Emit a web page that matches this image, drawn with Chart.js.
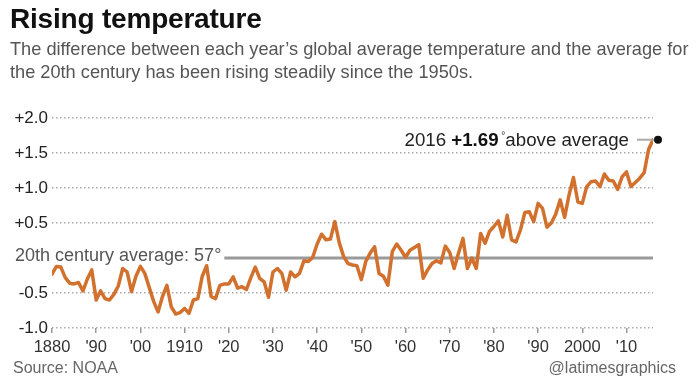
<!DOCTYPE html>
<html>
<head>
<meta charset="utf-8">
<script src="https://cdn.jsdelivr.net/npm/chart.js@4.4.1/dist/chart.umd.min.js"></script>
<style>
  html,body{margin:0;padding:0;background:#fff;}
  #wrap{position:relative;width:700px;height:388px;overflow:hidden;font-family:"Liberation Sans",Arial,sans-serif;}
  #c{position:absolute;left:0;top:0;}
  #title{position:absolute;left:10px;top:3px;font-weight:bold;font-size:28px;color:#111;letter-spacing:-0.2px;}
  #sub{position:absolute;left:10px;top:38px;width:695px;font-size:18.2px;line-height:23px;color:#555;white-space:nowrap;}
  #src{position:absolute;left:13px;top:359px;font-size:16px;color:#666;}
  #credit{position:absolute;right:24px;top:359px;font-size:16px;color:#666;}
</style>
</head>
<body>
<div id="wrap">
  <canvas id="c" width="700" height="388"></canvas>
  <div id="title">Rising temperature</div>
  <div id="sub">The difference between each year’s global average temperature and the average for<br>the 20th century has been rising steadily since the 1950s.</div>
  <div id="src">Source: NOAA</div>
  <div id="credit">@latimesgraphics</div>
</div>
<script>
// ---- Data (°F difference from 20th-century average) ----
const firstYear = 1880;
const anom1880s = [-0.23,-0.12,-0.13,-0.28,-0.36,-0.37,-0.35,-0.47,-0.30,-0.17];
const anom1890s = [-0.60,-0.47,-0.58,-0.60,-0.52,-0.40,-0.15,-0.20,-0.48,-0.26];
const anom1900s = [-0.12,-0.22,-0.42,-0.62,-0.77,-0.55,-0.39,-0.70,-0.80,-0.78];
const anom1910s = [-0.72,-0.79,-0.60,-0.58,-0.26,-0.11,-0.55,-0.58,-0.39,-0.37];
const anom1920s = [-0.37,-0.27,-0.43,-0.41,-0.45,-0.28,-0.13,-0.29,-0.34,-0.56];
const anom1930s = [-0.20,-0.15,-0.22,-0.46,-0.20,-0.27,-0.22,-0.04,-0.05,0.01];
const anom1940s = [0.20,0.34,0.26,0.27,0.52,0.22,0.02,-0.08,-0.10,-0.11];
const anom1950s = [-0.31,-0.05,0.07,0.16,-0.22,-0.26,-0.39,0.09,0.20,0.11];
const anom1960s = [0.01,0.11,0.15,0.19,-0.29,-0.17,-0.08,-0.04,-0.07,0.17];
const anom1970s = [0.08,-0.15,0.07,0.28,-0.15,0.00,-0.15,0.35,0.21,0.38];
const anom1980s = [0.45,0.53,0.30,0.61,0.26,0.23,0.40,0.65,0.66,0.52];
const anom1990s = [0.78,0.71,0.44,0.50,0.63,0.83,0.58,0.90,1.15,0.80];
const anom2000s = [0.78,1.02,1.09,1.10,1.02,1.20,1.11,1.10,0.98,1.16];
const anom2010s = [1.23,1.02,1.08,1.14,1.22,1.55,1.69];

const xTickYears  = [1880,1890,1900,1910,1920,1930,1940,1950,1960,1970,1980,1990,2000,2010];
const xTickLabels = ["1880","'90","'00","1910","'20","'30","'40","'50","'60","'70","'80","'90","2000","'10"];
const yTickValues = [-1.0,-0.5,0,0.5,1.0,1.5,2.0];
const yTickLabels = ["-1.0","-0.5","","+0.5","+1.0","+1.5","+2.0"];
const averageLabel = "20th century average: 57°";

const anomalies = [].concat(anom1880s,anom1890s,anom1900s,anom1910s,anom1920s,anom1930s,
  anom1940s,anom1950s,anom1960s,anom1970s,anom1980s,anom1990s,anom2000s,anom2010s);
const points = anomalies.map((v,i)=>({x:firstYear+i, y:v}));
const lastYear = firstYear + anomalies.length - 1;
const lastVal = anomalies[anomalies.length-1];

const FONT = '"Liberation Sans", Arial, sans-serif';

const zeroLinePlugin = {
  id:'zeroLine',
  beforeDatasetsDraw(chart){
    const {ctx, chartArea, scales} = chart;
    const y0 = scales.y.getPixelForValue(0);
    ctx.save();
    ctx.font = '18px ' + FONT;
    ctx.fillStyle = '#555';
    ctx.textBaseline = 'middle';
    ctx.textAlign = 'left';
    ctx.fillText(averageLabel, 15, y0 - 2);
    const w = ctx.measureText(averageLabel).width;
    ctx.strokeStyle = '#9a9a9a';
    ctx.lineWidth = 3;
    ctx.beginPath();
    ctx.moveTo(15 + w + 3, y0);
    ctx.lineTo(chartArea.right, y0);
    ctx.stroke();
    ctx.restore();
  }
};

const calloutPlugin = {
  id:'callout',
  afterDatasetsDraw(chart){
    const {ctx, scales} = chart;
    const px = scales.x.getPixelForValue(lastYear);
    const py = scales.y.getPixelForValue(lastVal);
    ctx.save();
    ctx.strokeStyle = '#aaa';
    ctx.lineWidth = 2;
    ctx.beginPath();
    ctx.moveTo(px - 16, py);
    ctx.lineTo(px + 2, py);
    ctx.stroke();
    ctx.fillStyle = '#111';
    ctx.beginPath();
    ctx.arc(px + 5, py, 4, 0, Math.PI*2);
    ctx.fill();
    ctx.textBaseline = 'alphabetic';
    ctx.textAlign = 'left';
    const base = py + 6;
    const reg = '18.7px ' + FONT, bold = 'bold 18.7px ' + FONT, small = '10px ' + FONT;
    const parts = [
      {t: String(lastYear) + ' ', f: reg, c:'#222', dy:0},
      {t: '+' + lastVal.toFixed(2), f: bold, c:'#111', dy:0},
      {t: ' °', f: small, c:'#333', dy:-7},
      {t: 'above average', f: reg, c:'#222', dy:0}
    ];
    let total = 0;
    parts.forEach(p=>{ ctx.font = p.f; p.w = ctx.measureText(p.t).width; total += p.w; });
    let x = px - 24 - total;
    parts.forEach(p=>{ ctx.font = p.f; ctx.fillStyle = p.c; ctx.fillText(p.t, x, base + p.dy); x += p.w; });
    ctx.restore();
  }
};

new Chart(document.getElementById('c'), {
  type:'line',
  data:{ datasets:[{
    data: points,
    borderColor:'#d2702d',
    borderWidth:3.5,
    pointRadius:0,
    tension:0,
    borderJoinStyle:'round',
    borderCapStyle:'round'
  }]},
  options:{
    responsive:false,
    animation:false,
    layout:{ padding:{ top:118, right:47, left:0, bottom:0 } },
    plugins:{ legend:{display:false}, tooltip:{enabled:false} },
    scales:{
      x:{
        type:'linear', min:firstYear, max:lastYear,
        afterBuildTicks(s){ s.ticks = xTickYears.map(v=>({value:v})); },
        afterFit(s){ s.height = 60; },
        ticks:{ autoSkip:false, maxRotation:0, padding:5, color:'#333',
          font:{ size:16.5, family:FONT },
          callback:(v)=> xTickLabels[xTickYears.indexOf(v)] },
        grid:{ drawOnChartArea:false, drawTicks:true, tickLength:5, color:'#999', lineWidth:1.5 },
        border:{ display:false }
      },
      y:{
        type:'linear', min:-1, max:2,
        afterBuildTicks(s){ s.ticks = yTickValues.map(v=>({value:v})); },
        afterFit(s){ s.width = 52; },
        ticks:{ padding:4, color:'#222', font:{ size:17, family:FONT },
          callback:(v)=> yTickLabels[yTickValues.indexOf(v)] },
        grid:{ drawTicks:false, lineWidth:1.5,
          color:(ctx)=> (ctx.tick && ctx.tick.value===0) ? 'rgba(0,0,0,0)' : '#aaa' },
        border:{ display:false, dash:[1.5,2.5] }
      }
    }
  },
  plugins:[zeroLinePlugin, calloutPlugin]
});
</script>
</body>
</html>
